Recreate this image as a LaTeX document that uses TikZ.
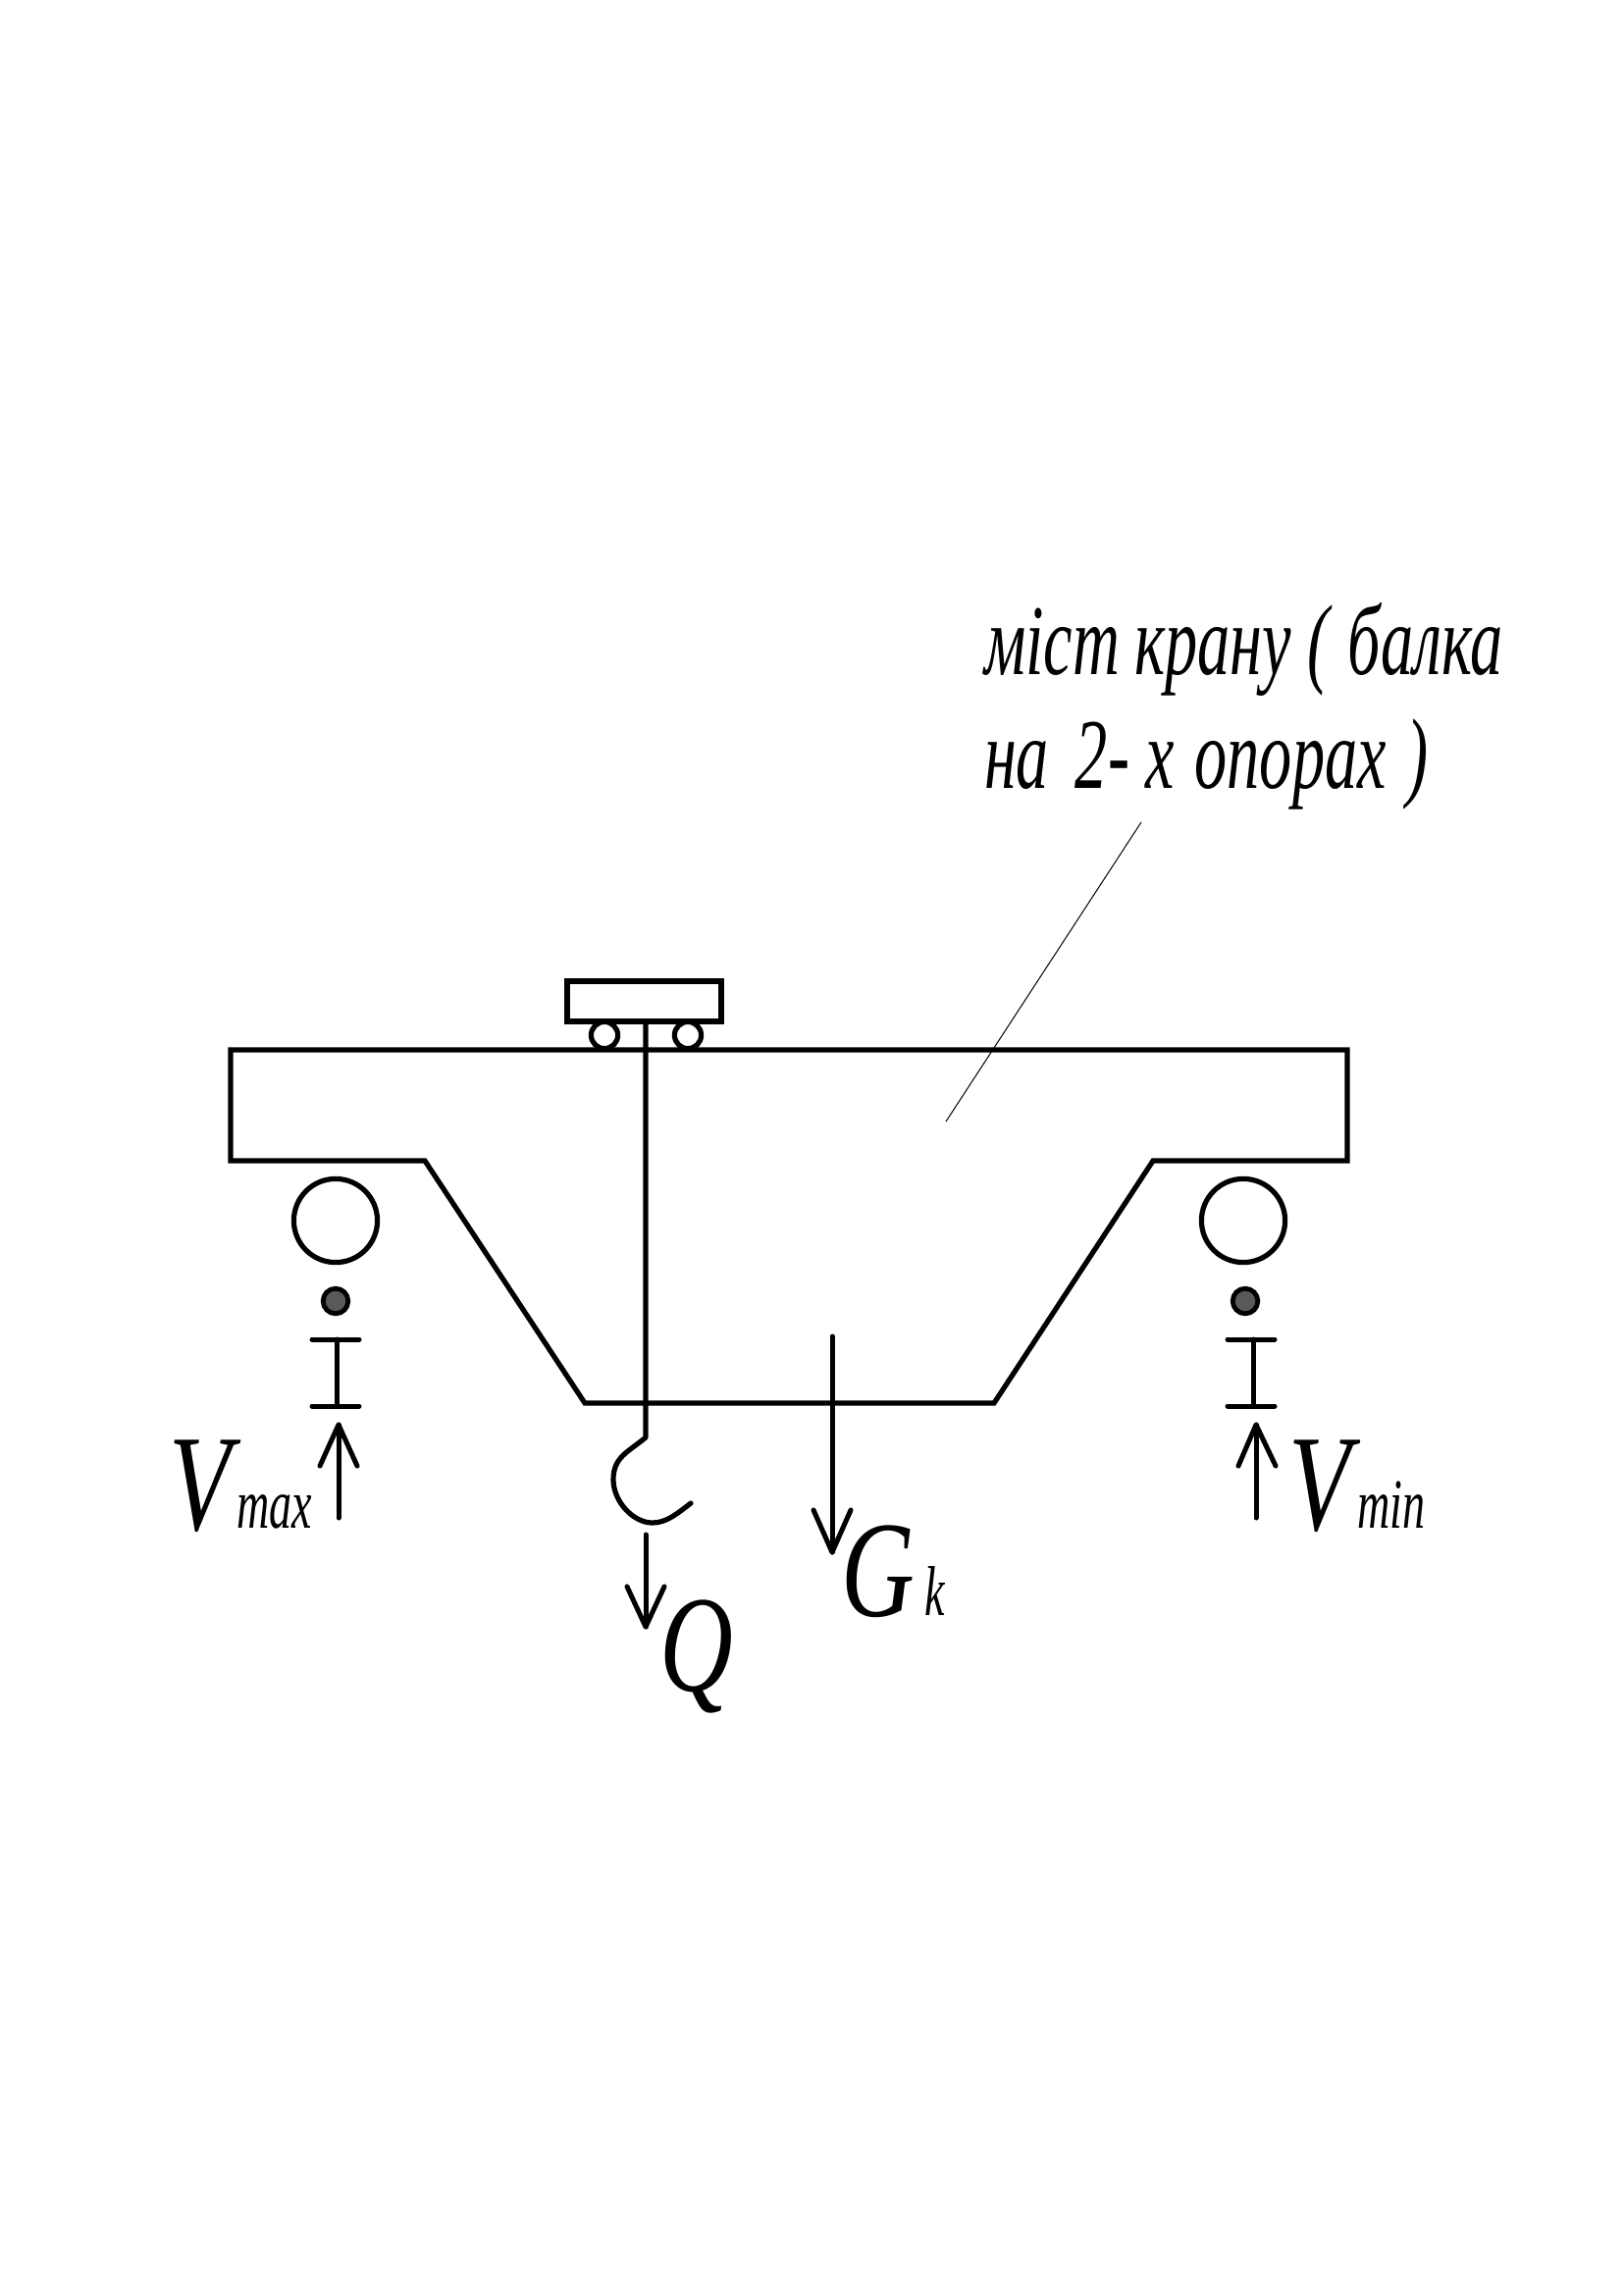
\documentclass[tikz,border=0pt]{standalone}
\usepackage{fontspec}
\setmainfont{Liberation Serif}
\tikzset{
  x=0.5pt,y=-0.5pt,
  thick line/.style={line width=2.6pt,line join=miter},
  med line/.style={line width=2.5pt,line cap=round,line join=round},
  lbl/.style={inner sep=0pt,outer sep=0pt,anchor=base west,transform shape},
  big/.style={lbl,xscale=0.74,font=\fontsize{70}{70}\selectfont\itshape},
  subs/.style={lbl,xscale=0.64,font=\fontsize{36}{36}\selectfont\itshape},
  note/.style={lbl,xscale=0.65,font=\fontsize{51}{51}\selectfont\itshape},
}
\begin{document}
\begin{tikzpicture}
\useasboundingbox (0,0) rectangle (1654,2339);
\fill[white] (0,0) rectangle (1654,2339);
% bridge
\draw[thick line] (235,1070) -- (1373,1070) -- (1373,1183) -- (1175,1183) -- (1013,1430) -- (596,1430) -- (433,1183) -- (235,1183) -- cycle;
% trolley
\draw[thick line] (578,1000) rectangle (735,1041);
\draw[thick line] (616,1055) circle[radius=6.8pt];
\draw[thick line] (701,1055) circle[radius=6.8pt];
% hook
\draw[thick line,line join=round,line cap=round] (658,1041) -- (658,1465) .. controls (640,1480) and (625,1485) .. (625,1508) .. controls (625,1530) and (645,1552) .. (665,1552) .. controls (680,1552) and (692,1541) .. (704,1532);
% load arrows
\draw[med line] (658,1564) -- (658,1658);
\draw[med line] (639,1617) -- (658,1658) -- (677,1617);
\draw[med line] (848,1362) -- (848,1582);
\draw[med line] (829,1539) -- (848,1582) -- (867,1539);
% left support
\draw[thick line] (342,1244) circle[radius=21.3pt];
\filldraw[draw=black,fill=black!65,line width=2.4pt] (342,1326) circle[radius=6.4pt];
\draw[med line] (318,1365) -- (366,1365);
\draw[med line] (318,1433) -- (366,1433);
\draw[med line] (343,1365) -- (343,1433);
\draw[med line] (345,1547) -- (345,1452);
\draw[med line] (326,1494) -- (345,1452) -- (364,1494);
% right support
\draw[thick line] (1267,1244) circle[radius=21.3pt];
\filldraw[draw=black,fill=black!65,line width=2.4pt] (1269,1326) circle[radius=6.4pt];
\draw[med line] (1251,1365) -- (1299,1365);
\draw[med line] (1251,1433) -- (1299,1433);
\draw[med line] (1277,1365) -- (1277,1433);
\draw[med line] (1280,1547) -- (1280,1452);
\draw[med line] (1262,1494) -- (1280,1452) -- (1300,1494);
% leader
\draw[line width=0.5pt] (1163,838) -- (964,1143);
% labels
\node[note] (n1) at (1003,687) {міст\hspace{-1pt} крану (\hspace{2pt} балка};
\node[note] (n2) at (1003,803) {на\hspace{8pt} 2- х\hspace{3pt} опорах\hspace{3pt} )};
\node[big] (vmax) at (172,1559) {V};
\node[subs] (smax) at (241,1557) {max};
\node[big] (vmin) at (1313,1559) {V};
\node[subs] (smin) at (1383,1557) {min};
\node[big] (g) at (857,1647) {G};
\node[subs] (k) at (942,1646) {k};
\node[big] (q) at (672,1723) {Q};
\end{tikzpicture}
\end{document}
